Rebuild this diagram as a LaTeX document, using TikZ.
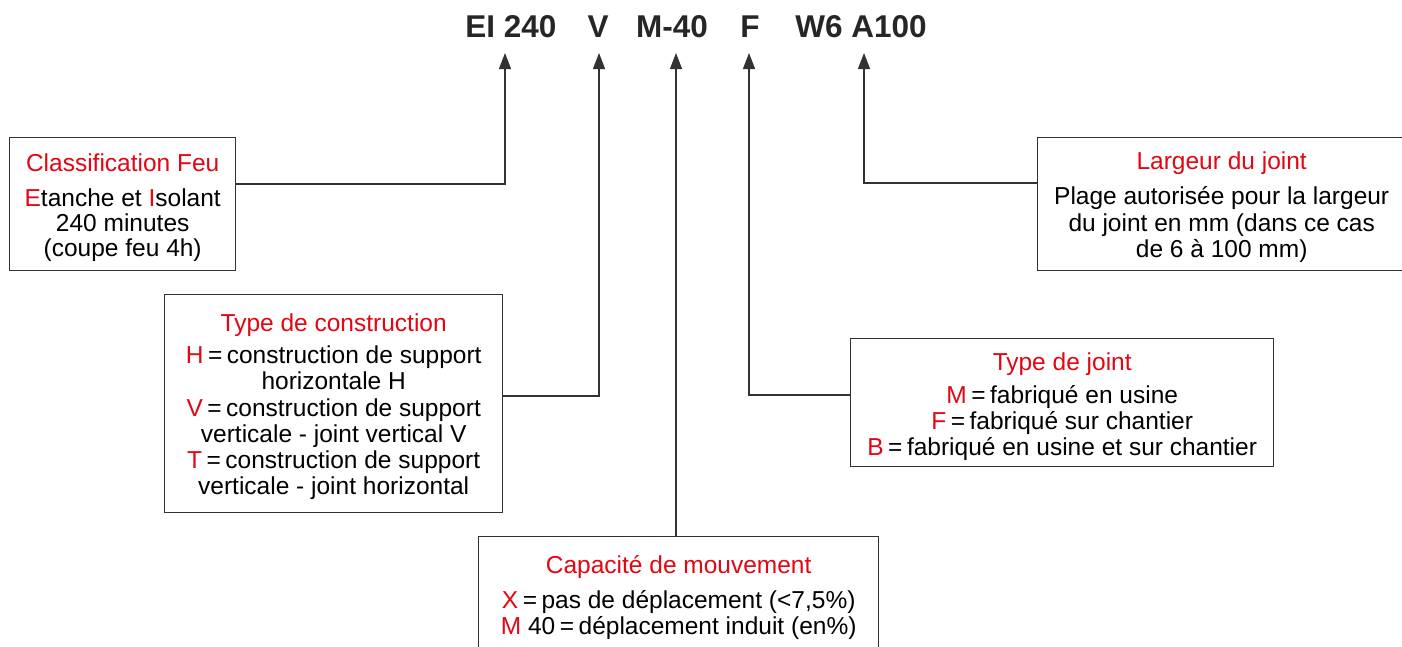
\documentclass[tikz,border=0pt]{standalone}
\usepackage{fontspec}
\setmainfont{Liberation Sans}
\usetikzlibrary{arrows.meta,calc}
\definecolor{accent}{RGB}{227,6,19}
\definecolor{linegray}{RGB}{50,50,50}
\newcommand{\rd}[1]{\textcolor{accent}{#1}}
\newcommand{\eqsign}{\hspace{4.5pt}=\hspace{4.5pt}}
\tikzset{
  infobox/.style={draw=linegray, line width=1.4pt, fill=white, inner sep=0pt, anchor=north west},
  infotext/.style={align=center, inner sep=0pt, font=\fontsize{24.5}{26.2}\selectfont},
  code/.style={font=\fontsize{31.5}{33}\selectfont\bfseries, text=black!85, inner sep=0pt, anchor=base},
  conn/.style={draw=linegray, line width=1.3pt},
  pointer/.style={conn, -{Triangle[length=16pt,width=12pt]}}
}
\begin{document}
\begin{tikzpicture}[x=1pt,y=-1pt]
\useasboundingbox (0,0) rectangle (1402,646);
\clip (0,0) rectangle (1402,646);
% code tokens
\node[code] (ei) at (511,37.5) {EI 240};
\node[code] (v) at (598,37.5) {V};
\node[code] (m) at (672,37.5) {M-40};
\node[code] (f) at (750,37.5) {F};
\node[code] (w) at (861,37.5) {W6 A100};
\coordinate (tEI) at (505,53);
\coordinate (tV) at (599,53);
\coordinate (tM) at (676,53);
\coordinate (tF) at (749,53);
\coordinate (tW) at (864,53);
% boxes
\node[infobox, minimum width=226pt, minimum height=133pt] (classe) at (9,137) {};
\node[infotext] (classeT) at ($(classe.center)+(0,3.5)$)
  {\rd{Classification Feu}\\[8.5pt]\rd{E}tanche et \rd{I}solant\\[-1pt]240 minutes\\[-1pt](coupe feu 4h)};
\node[infobox, minimum width=338pt, minimum height=218pt] (constr) at (164,294) {};
\node[infotext] (constrT) at ($(constr.center)+(0,3)$)
  {\rd{Type de construction}\\[6pt]\rd{H}\eqsign construction de support\\horizontale H\\
   \rd{V}\eqsign construction de support\\verticale - joint vertical V\\
   \rd{T}\eqsign construction de support\\verticale - joint horizontal};
\node[infobox, minimum width=400pt, minimum height=122pt] (capa) at (478,536) {};
\node[infotext] (capaT) at (capa.center)
  {\rd{Capacité de mouvement}\\[9pt]\rd{X}\eqsign pas de déplacement (<7,5\%)\\\rd{M} 40\eqsign déplacement induit (en\%)};
\node[infobox, minimum width=423pt, minimum height=128pt] (joint) at (850,338) {};
\node[infotext] (jointT) at ($(joint.center)+(0,4)$)
  {\rd{Type de joint}\\[7pt]\rd{M}\eqsign fabriqué en usine\\\rd{F}\eqsign fabriqué sur chantier\\\rd{B}\eqsign fabriqué en usine et sur chantier};
\node[infobox, minimum width=368pt, minimum height=133pt] (larg) at (1037,137) {};
\node[infotext] (largT) at ($(larg.center)+(0,3)$)
  {\rd{Largeur du joint}\\[9pt]Plage autorisée pour la largeur\\du joint en mm (dans ce cas\\de 6 à 100 mm)};
% connectors
\draw[pointer] (classe.east |- 0,184) -| (tEI);
\draw[pointer] (constr.east |- 0,396) -| (tV);
\draw[pointer] (capa.north -| tM) -- (tM);
\draw[pointer] (joint.west |- 0,395) -| (tF);
\draw[pointer] (larg.west |- 0,183) -| (tW);
\end{tikzpicture}
\end{document}
